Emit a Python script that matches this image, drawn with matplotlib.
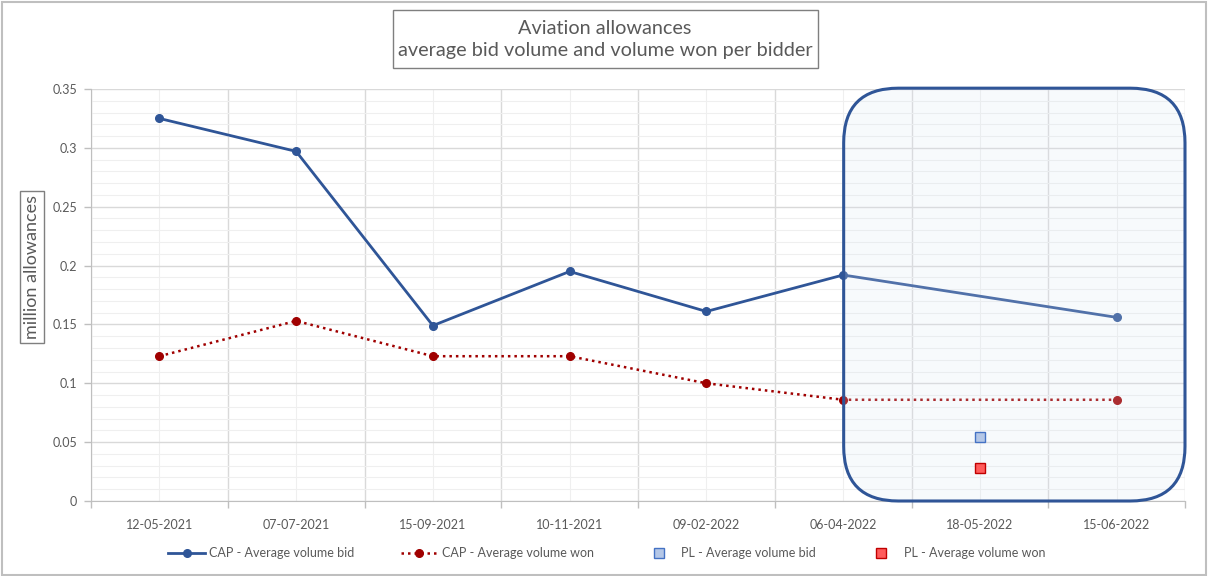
import numpy as np
import matplotlib.pyplot as plt
from matplotlib.patches import FancyBboxPatch, Rectangle
from matplotlib.ticker import MultipleLocator, FixedLocator, NullFormatter

plt.rcParams['font.family'] = ['Lato', 'DejaVu Sans']

# ----------------------------------------------------------------------------
# data (million allowances)
# ----------------------------------------------------------------------------
dates = ['12-05-2021', '07-07-2021', '15-09-2021', '10-11-2021',
         '09-02-2022', '06-04-2022', '18-05-2022', '15-06-2022']
cap_bid = [0.325, 0.297, 0.149, 0.195, 0.161, 0.192, np.nan, 0.156]
cap_won = [0.123, 0.153, 0.123, 0.123, 0.100, 0.086, np.nan, 0.086]
pl_bid = [np.nan, np.nan, np.nan, np.nan, np.nan, np.nan, 0.054, np.nan]
pl_won = [np.nan, np.nan, np.nan, np.nan, np.nan, np.nan, 0.028, np.nan]

TXT = '#595959'
BLUE = '#2f5597'
RED = '#a00000'

fig = plt.figure(figsize=(12.08, 5.76), dpi=100)
ax = fig.add_axes([91 / 1208, 1 - 501 / 576, 1094 / 1208, 412 / 576])

x = np.arange(len(dates))


def present(vals):
    v = np.array(vals, dtype=float)
    m = ~np.isnan(v)
    return x[m], v[m]


xb, yb = present(cap_bid)
ax.plot(xb, yb, color=BLUE, lw=2, marker='o', ms=5.5, zorder=3,
        label='CAP - Average volume bid')
xw, yw = present(cap_won)
ax.plot(xw, yw, color=RED, lw=1.8, ls=(0, (1, 1.6)), marker='o', ms=5.5,
        markerfacecolor=RED, markeredgecolor=RED, zorder=3,
        label='CAP - Average volume won')
xp, yp = present(pl_bid)
ax.plot(xp, yp, ls='none', marker='s', ms=7, markerfacecolor='#b4c7e7',
        markeredgecolor='#4472c4', mew=1, zorder=5, label='PL - Average volume bid')
xq, yq = present(pl_won)
ax.plot(xq, yq, ls='none', marker='s', ms=7, markerfacecolor='#ff5b5b',
        markeredgecolor='#c00000', mew=1, zorder=5, label='PL - Average volume won')

# axes / grid
ax.set_xlim(-0.5, len(dates) - 0.5)
ax.set_ylim(0, 0.35)
ax.yaxis.set_minor_locator(MultipleLocator(0.01))
ax.set_yticks(np.arange(0, 0.351, 0.05))
ax.set_yticklabels(['0', '0.05', '0.1', '0.15', '0.2', '0.25', '0.3', '0.35'])
ax.xaxis.set_major_locator(FixedLocator(np.arange(-0.5, len(dates), 1.0)))
ax.xaxis.set_major_formatter(NullFormatter())
ax.xaxis.set_minor_locator(FixedLocator(x))
ax.set_xticklabels(dates, minor=True)

ax.grid(which='major', color='#d9d9d9', lw=1)
ax.grid(which='minor', color='#efefef', lw=0.8)
ax.set_axisbelow(True)
ax.tick_params(axis='both', which='major', colors='#bfbfbf', labelcolor=TXT,
               labelsize=9, length=5, direction='out', width=1)
ax.tick_params(axis='x', which='minor', length=0, labelcolor=TXT, labelsize=9, pad=13)
ax.tick_params(axis='y', which='minor', length=0)
ax.tick_params(axis='y', which='major', pad=5)
for s in ['top', 'right']:
    ax.spines[s].set_visible(False)
for s in ['left', 'bottom']:
    ax.spines[s].set_color('#bfbfbf')

# highlight box around the last period
box_kw = dict(boxstyle='round,pad=0,rounding_size=0.05',
              mutation_aspect=1094 / 412, transform=ax.transAxes, clip_on=False)
ax.add_patch(FancyBboxPatch((0.688, 0.0), 0.312, 1.002, facecolor='#dae6f4',
                            alpha=0.2, edgecolor='none', zorder=4, **box_kw))
ax.add_patch(FancyBboxPatch((0.688, 0.0), 0.312, 1.002, facecolor='none',
                            edgecolor=BLUE, lw=2.2, zorder=6, **box_kw))

# y label in a box
ax.text(-0.054, 0.568, 'million allowances', transform=ax.transAxes,
        rotation=90, ha='center', va='center', fontsize=13, color=TXT,
        bbox=dict(boxstyle='square,pad=0.2', fc='white', ec='#7f7f7f', lw=1))

# title in a box
fig.add_artist(Rectangle((393 / 1208, 1 - 68 / 576), 425 / 1208, 58 / 576,
                         transform=fig.transFigure, fc='white', ec='#7f7f7f', lw=1))
fig.text(605 / 1208, 1 - 39.5 / 576,
         'Aviation allowances\naverage bid volume and volume won per bidder',
         ha='center', va='center', fontsize=14.3, color=TXT, linespacing=1.3)

fig.legend(loc='center', bbox_to_anchor=(0.502, 1 - 553 / 576), ncol=4,
           frameon=False, fontsize=9, labelcolor=TXT, handlelength=3.0,
           columnspacing=3.7, handletextpad=0.3)

fig.add_artist(Rectangle((0.002, 0.002), 0.996, 0.994, transform=fig.transFigure,
                         fill=False, ec='#bfbfbf', lw=1.5))

plt.savefig('out.png', dpi=100)
